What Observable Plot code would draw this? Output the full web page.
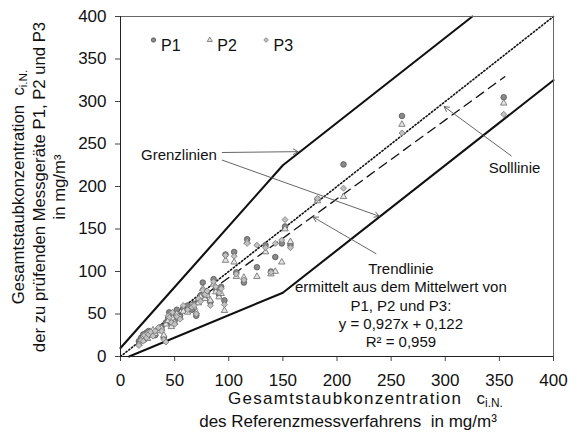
<!DOCTYPE html>
<html><head><meta charset="utf-8">
<script src="https://cdn.jsdelivr.net/npm/d3@7"></script>
<script src="https://cdn.jsdelivr.net/npm/@observablehq/plot@0.6"></script>
<style>
body{margin:0;background:#fff;}
#chart{width:571px;height:432px;}
</style></head><body><div id="chart"></div>
<script>
// Reference (x) values and measured values of the three devices
const ref = [17,19,21,22,24,25,26,28,30,32,35,38,40,42,44,45,47,48,50,52,55,58,62,66,68,70,72,74,76,78,80,83,86,88,91,93,96,97,105,107,114,117,126,134,139,143,149,152,157,182,206,260,354];
const p1  = [18,22,26,20,28,24,30,27,29,25,32,35,22,40,45,52,38,50,42,55,48,57,60,55,62,48,66,72,87,70,75,64,91,80,73,82,66,120,123,99,87,138,105,131,100,117,133,153,131,185,226,283,305];
const p2  = [15,20,24,23,27,21,28,25,31,27,30,33,25,38,42,48,35,45,40,50,46,53,52,60,58,52,63,70,80,68,72,66,85,76,70,74,54,113,111,94,93,135,94,123,97,100,111,150,135,183,188,273,298];
const p3  = [13,19,18,25,22,27,26,29,24,30,34,30,20,17,48,46,40,52,38,47,44,60,55,58,60,50,68,65,78,73,77,60,88,82,75,80,61,119,118,97,90,133,131,128,99,133,137,161,128,186,198,263,285];
const series = ["P1","P2","P3"];
const xTicks = [0,50,100,150,200,250,300,350,400];
const yTicks = [0,50,100,150,200,250,300,350,400];

// Limit lines (Grenzlinien), target line (Solllinie), trend line
const upperX = [0,150,325];  const upperY = [10,225,400];
const lowerX = [8,150,400];  const lowerY = [0,75,325];
const sollX  = [0,400];      const sollY  = [0,400];
const trendX = [15,355];     const trendY = [14.0,329.2];

// Annotations
const arrowX1 = [94,94,361,236];  const arrowY1 = [240,231,236,121];
const arrowX2 = [164,239,299,178]; const arrowY2 = [241,165,294,164];
const noteText = ["Grenzlinien","Solllinie","Trendlinie\nermittelt aus dem Mittelwert von\nP1, P2 und P3:\ny = 0,927x + 0,122\nR² = 0,959"];
const noteX = [54,364,259];
const noteY = [238,223,61];

const pts = ref.flatMap((x,i)=>[{x,y:p1[i],s:"P1"},{x,y:p2[i],s:"P2"},{x,y:p3[i],s:"P3"}]);
const line = (xs,ys)=>xs.map((x,i)=>({x,y:ys[i]}));
const arrows = arrowX1.map((_,i)=>({x1:arrowX1[i],y1:arrowY1[i],x2:arrowX2[i],y2:arrowY2[i]}));
const notes = noteText.map((t,i)=>({text:t,x:noteX[i],y:noteY[i]}));

const sty = {
  P1:{symbol:"circle",r:2.8,fill:"#8a8a8a",stroke:"#555",lr:2.2},
  P2:{symbol:"triangle",r:2.4,fill:"#e4e4e4",stroke:"#6a6a6a",lr:1.9},
  P3:{symbol:"diamond2",r:2.7,fill:"#c2c2c2",stroke:"#777",lr:2.1}
};
const FONT = "'Liberation Sans', Arial, sans-serif";

const legendMarks = series.flatMap((s,i)=>[
  Plot.dot([s],{frameAnchor:"top-left",dx:33+56.3*i,dy:23.5,symbol:sty[s].symbol,r:sty[s].lr,fill:sty[s].fill,stroke:sty[s].stroke,strokeWidth:0.8}),
  Plot.text([s],{frameAnchor:"top-left",dx:40.5+56.3*i,dy:23.5,text:d=>d,textAnchor:"start",fontSize:16,fill:"#111"})
]);

const plot = Plot.plot({
  width:571, height:432,
  marginLeft:120, marginRight:18, marginTop:16, marginBottom:76,
  style:{fontFamily:FONT, fontSize:"17px", color:"#111", background:"#fff", overflow:"visible"},
  x:{domain:[0,400]},
  y:{domain:[0,400]},
  marks:[
    Plot.line(line(upperX,upperY),{x:"x",y:"y",stroke:"#111",strokeWidth:2.1}),
    Plot.line(line(lowerX,lowerY),{x:"x",y:"y",stroke:"#111",strokeWidth:2.1}),
    Plot.line(line(sollX,sollY),{x:"x",y:"y",stroke:"#111",strokeWidth:1.6,strokeDasharray:"1.3,2.2"}),
    Plot.line(line(trendX,trendY),{x:"x",y:"y",stroke:"#111",strokeWidth:1.3,strokeDasharray:"9,6"}),
    ...series.map(s=>Plot.dot(pts.filter(d=>d.s===s),{x:"x",y:"y",symbol:sty[s].symbol,r:sty[s].r,fill:sty[s].fill,stroke:sty[s].stroke,strokeWidth:0.8})),
    Plot.arrow(arrows,{x1:"x1",y1:"y1",x2:"x2",y2:"y2",stroke:"#555",strokeWidth:0.9,headLength:9,bend:0}),
    Plot.text(notes,{x:"x",y:"y",text:"text",fontSize:15,fill:"#111",lineHeight:1.22}),
    ...legendMarks,
    Plot.frame({stroke:"#666"}),
    Plot.axisX({ticks:xTicks,tickSize:5,tickPadding:12,label:null,stroke:"#444",fill:"#111"}),
    Plot.axisY({ticks:yTicks,tickSize:5,tickPadding:9,label:null,stroke:"#444",fill:"#111"}),
    Plot.ruleX([0],{stroke:"#222"}),
    Plot.ruleY([0],{stroke:"#222"})
  ]
});
document.getElementById("chart").appendChild(plot);

// Axis titles (multi-line with sub/superscripts)
const svg = d3.select(plot);
function addLine(g, parts){
  parts.forEach(p=>{
    const t = g.append("tspan").text(p.t);
    if (p.sub) t.attr("font-size","70%").attr("dy","0.22em");
    if (p.ls) t.attr("letter-spacing",p.ls);
  });
}
const xTitle = [
  {x:228,y:404,anchor:"start",parts:[{t:"Gesamtstaubkonzentration",ls:1.3},{t:"\u00a0\u00a0 c"},{t:"i.N.",sub:true}]},
  {x:348,y:427,anchor:"middle",parts:[{t:"des Referenzmessverfahrens\u00a0 in mg/m³"}]}
];
xTitle.forEach(l=>{
  const t = svg.append("text").attr("x",l.x).attr("y",l.y).attr("text-anchor",l.anchor)
    .attr("font-size",17).attr("fill","#111").attr("font-family",FONT);
  addLine(t,l.parts);
});
const yTitle = [
  {bx:24,parts:[{t:"Gesamtstaubkonzentration\u00a0 c"},{t:"i.N.",sub:true}]},
  {bx:45,parts:[{t:"der zu prüfenden Messgeräte P1, P2 und P3"}]},
  {bx:65,parts:[{t:"in mg/m³"}]}
];
yTitle.forEach(l=>{
  const t = svg.append("text").attr("transform",`translate(${l.bx},187) rotate(-90)`).attr("text-anchor","middle")
    .attr("font-size",16.7).attr("fill","#111").attr("font-family",FONT);
  addLine(t,l.parts);
});
</script></body></html>
